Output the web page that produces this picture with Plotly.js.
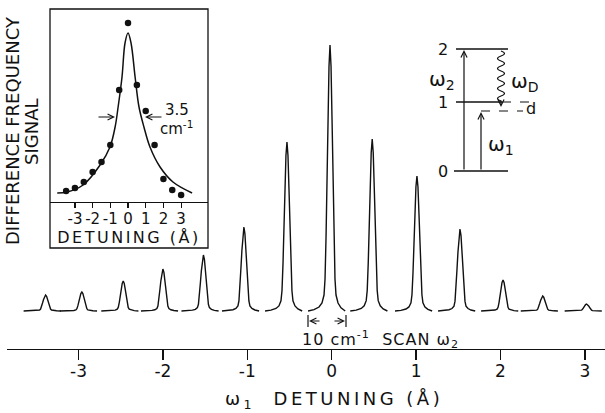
<!DOCTYPE html>
<html><head><meta charset="utf-8">
<script src="https://cdn.plot.ly/plotly-3.0.1.min.js"></script>
<style>
html,body{margin:0;padding:0;background:#fff;}
#chart{width:605px;height:413px;}
.g-x2title text{letter-spacing:2.5px;}
</style></head><body><div id="chart"></div>
<script>
// ---- main spectrum: one omega2 scan for each omega1 detuning ----
const peakDetuning = [-3.39,-2.96,-2.47,-2.0,-1.52,-1.04,-0.53,-0.02,0.48,1.01,1.52,2.03,2.5,3.02];
const peakHeight   = [16,19,30,42,56,84,169,266,172,135,82,31,15,7];
// normalized line profile of a single scan (offset in Å, relative signal)
const profileOffset = [-0.26,-0.19,-0.13,-0.095,-0.071,-0.059,-0.047,-0.036,-0.024,-0.012,0,0.012,0.024,0.036,0.047,0.059,0.071,0.095,0.13,0.18];
const profileLevel  = [0,0.005,0.015,0.03,0.06,0.12,0.28,0.5,0.72,0.92,1,0.92,0.72,0.5,0.28,0.12,0.06,0.03,0.012,0];
const tickVals = [-3,-2,-1,0,1,2,3];
const tickText = ['-3','-2','-1','0','1','2','3'];
const xTitle = 'ω<sub>1</sub>  DETUNING (Å)';

// ---- inset: peak signal vs detuning, with Lorentzian fit ----
const insetX      = [-3.5,-3,-2.5,-2,-1.5,-1,-0.5,0,0.5,1,1.5,2,2.5,3];
const insetSignal = [11,14,20,30,40,57,112,179,117,91,57,23,12,7];
const fitX      = [-4.0,-3.45,-2.54,-1.58,-1.02,-0.73,-0.56,-0.34,-0.17,0,0.17,0.40,0.62,0.90,1.24,1.81,2.54,3.62];
const fitSignal = [9,10,17,37,55,75,95,125,159,169,159,125,95,75,55,35,20,9];
const insetTicks = [-3,-2,-1,0,1,2,3];
const insetTickText = ['-3','-2','-1','0','1','2','3'];

// ---- build the broken trace (one segment per scan) ----
const sx = [], sy = [];
peakDetuning.forEach((p, i) => {
  profileOffset.forEach((o, j) => { sx.push(p + o); sy.push(peakHeight[i] * profileLevel[j]); });
  sx.push(null); sy.push(null);
});

const INK = '#111';
const W = 605, H = 413;
const X = px => px / W, Y = py => 1 - py / H;

const traces = [
  {x: sx, y: sy, type: 'scatter', mode: 'lines', line: {color: INK, width: 1.4}, connectgaps: false, hoverinfo: 'skip'},
  {x: fitX, y: fitSignal, xaxis: 'x2', yaxis: 'y2', type: 'scatter', mode: 'lines', line: {color: INK, width: 1.5, shape: 'spline'}, hoverinfo: 'skip'},
  {x: insetX, y: insetSignal, xaxis: 'x2', yaxis: 'y2', type: 'scatter', mode: 'markers', marker: {color: INK, size: 6.5}, hoverinfo: 'skip'}
];

function line(x0, y0, x1, y1, dash, w) {
  return {type: 'line', xref: 'paper', yref: 'paper', x0: X(x0), y0: Y(y0), x1: X(x1), y1: Y(y1),
          line: {color: INK, width: w || 1.3, dash: dash || 'solid'}};
}
// wavy decay arrow path
let wp = 'M' + X(501) + ',' + Y(51);
let yy = 51, side = 1;
while (yy < 100) {
  wp += ' Q' + X(501 + 7 * side) + ',' + Y(yy + 2.5) + ' ' + X(501) + ',' + Y(yy + 5);
  yy += 5; side = -side;
}
const shapes = [
  {type: 'rect', xref: 'paper', yref: 'paper', x0: X(50), x1: X(208), y0: Y(248), y1: Y(9), line: {color: INK, width: 1.3}},
  line(456, 49, 508, 49), line(456, 102, 502, 102), line(502, 102, 530, 102, 'dash', 1.1),
  line(454, 171, 508, 171), line(481, 111, 523, 111, 'dash', 1.1),
  {type: 'path', xref: 'paper', yref: 'paper', path: wp, line: {color: INK, width: 1.2}},
  line(308, 315, 308, 327, null, 1.2), line(346, 315, 346, 327, null, 1.2)
];

function arrow(hx, hy, ax, ay, w) {
  return {xref: 'paper', yref: 'paper', x: X(hx), y: Y(hy), ax: ax, ay: ay, text: '', showarrow: true,
          arrowhead: 5, arrowsize: 1, arrowwidth: w || 1.2, arrowcolor: INK, standoff: 0};
}
function txt(x, y, t, size, extra) {
  return Object.assign({xref: 'paper', yref: 'paper', x: X(x), y: Y(y), text: t, showarrow: false,
          font: {size: size, color: INK}, xanchor: 'center', yanchor: 'middle'}, extra || {});
}
const annotations = [
  arrow(115, 117, -18, 0), arrow(145, 117, 18, 0),
  arrow(309, 321, 12, 0), arrow(345, 321, -12, 0),
  arrow(464, 50, 0, 121), arrow(481, 112, 0, 59), arrow(501, 107, 0, -8),
  txt(177, 110, '3.5', 15), txt(176, 128, 'cm<sup>-1</sup>', 15),
  txt(380, 339, '10 cm<sup>-1</sup>  SCAN ω<sub>2</sub>', 16),
  txt(443, 49, '2', 16), txt(443, 102, '1', 16), txt(443, 171, '0', 16),
  txt(442, 80, 'ω<sub>2</sub>', 20), txt(525, 82, 'ω<sub>D</sub>', 20),
  txt(531, 108, 'd', 16), txt(501, 145, 'ω<sub>1</sub>', 20),
  txt(12, 131, 'DIFFERENCE FREQUENCY', 18, {textangle: -90}),
  txt(31, 132, 'SIGNAL', 18, {textangle: -90}),
  txt(334, 400, xTitle, 18)
];
// widen the lettering of the main axis title (last annotation) and the scan label
const st = document.createElement('style');
st.textContent = '.annotation[data-index="' + (annotations.length - 1) + '"] text{letter-spacing:3.5px;}' +
                 '.annotation[data-index="' + (annotations.length - 11) + '"] text{letter-spacing:1px;}';
document.head.appendChild(st);

const layout = {
  width: W, height: H, margin: {l: 0, r: 0, t: 0, b: 0},
  paper_bgcolor: '#fff', plot_bgcolor: 'rgba(0,0,0,0)', showlegend: false,
  font: {family: 'DejaVu Sans, sans-serif', color: INK, size: 15},
  xaxis: {domain: [7 / W, 1], range: [-3.847, 3.238], showline: true, linecolor: INK, linewidth: 1.3,
          ticks: 'outside', ticklen: 10, tickwidth: 1.3, tickcolor: INK, tickmode: 'array',
          tickvals: tickVals, ticktext: tickText, tickfont: {size: 17}, ticklabelstandoff: -4,
          showgrid: false, zeroline: false},
  yaxis: {domain: [1 - 349 / H, 1 - 30 / H], range: [-38, 281], visible: false},
  xaxis2: {anchor: 'y2', domain: [50 / W, 208 / W], range: [-4.41, 4.52], showline: true, linecolor: INK, linewidth: 1.2,
           ticks: 'outside', ticklen: 5, tickwidth: 1.1, tickcolor: INK, tickmode: 'array',
           tickvals: insetTicks, ticktext: insetTickText, tickfont: {size: 15}, ticklabelstandoff: -2,
           showgrid: false, zeroline: false,
           title: {text: 'DETUNING (Å)', font: {size: 16}, standoff: 2}},
  yaxis2: {anchor: 'x2', domain: [1 - 202 / H, 1 - 9 / H], range: [0, 193], visible: false},
  shapes: shapes, annotations: annotations
};
Plotly.newPlot('chart', traces, layout, {staticPlot: true, displayModeBar: false});
</script></body></html>
